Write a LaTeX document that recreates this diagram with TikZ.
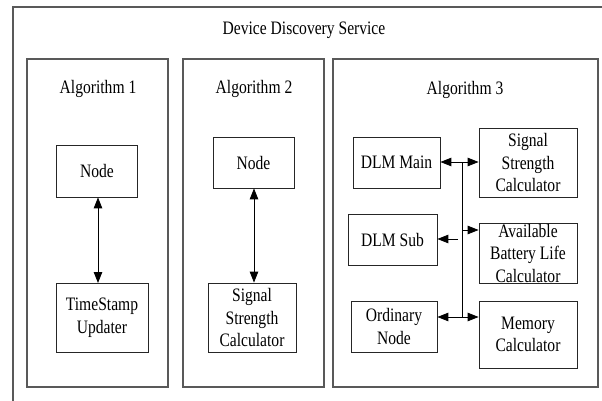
\documentclass[tikz,border=0pt]{standalone}
\usepackage{fontspec}
\setmainfont{Liberation Serif}[FakeStretch=0.82]
\usetikzlibrary{arrows.meta}

\begin{document}
\begin{tikzpicture}[x=1pt,y=-1pt,
  frame/.style={draw=black!65, line width=1.1pt},
  box/.style={draw=black!85, line width=0.8pt, inner sep=0pt, align=center,
              font=\fontsize{19}{22.5}\selectfont},
  caption/.style={font=\fontsize{19}{22.5}\selectfont},
  link/.style={line width=0.9pt, {Triangle[length=11pt,width=8.5pt]}-{Triangle[length=11pt,width=8.5pt]}},
  onelink/.style={line width=0.9pt, -{Triangle[length=11pt,width=8.5pt]}}]

\useasboundingbox (0,0) rectangle (602,400);
\clip (0,0) rectangle (602,400);
\fill[white] (0,0) rectangle (602,400);

% service frame (runs past the page edges)
\draw[frame] (13,7) rectangle (614,414);
\node[caption] (title) at (304,30) {Device Discovery Service};

% algorithm frames
\draw[frame] (27,59) rectangle (168,387);
\draw[frame] (183,59) rectangle (324,387);
\draw[frame] (333,59) rectangle (598,387);
\node[caption] (t1) at (98,89) {Algorithm 1};
\node[caption] (t2) at (254,89) {Algorithm 2};
\node[caption] (t3) at (465,90) {Algorithm 3};

% Algorithm 1
\node[box, minimum width=81pt, minimum height=52pt] (a1n) at (97,171) {Node};
\node[box, minimum width=92pt, minimum height=69pt] (a1t) at (102,317.5) {TimeStamp\\Updater};
\draw[link] (a1n.south -| 98,0) -- (98,283);

% Algorithm 2
\node[box, minimum width=81pt, minimum height=51pt] (a2n) at (253.5,162.5) {Node};
\node[box, minimum width=88pt, minimum height=69pt] (a2s) at (252,317.5) {Signal\\Strength\\Calculator};
\draw[link] (a2n.south -| 254,0) -- (a2s.north -| 254,0);

% Algorithm 3
\node[box, minimum width=87pt, minimum height=51pt] (dlmm) at (396.5,162.5) {DLM Main};
\node[box, minimum width=89pt, minimum height=51pt] (dlms) at (392.5,239.5) {DLM Sub};
\node[box, minimum width=86pt, minimum height=51pt] (ord) at (394,326.5) {Ordinary\\Node};
\node[box, minimum width=98pt, minimum height=69pt] (ssc) at (528,162.5) {Signal\\Strength\\Calculator};
\node[box, minimum width=98pt, minimum height=60pt] (abl) at (528,253) {Available\\Battery Life\\Calculator};
\node[box, minimum width=98pt, minimum height=67pt] (mem) at (528,334.5) {Memory\\Calculator};

\coordinate (bustop) at (462,162);
\coordinate (busbot) at (462,317);
\draw[line width=0.9pt] (bustop) -- (busbot);
\draw[link] (dlmm.east |- bustop) -- (ssc.west |- bustop);
\draw[onelink] (458,239) -- (dlms.east |- 0,239);
\draw[onelink] (462,230) -- (abl.west |- 0,230);
\draw[link] (ord.east |- busbot) -- (mem.west |- busbot);

\end{tikzpicture}
\end{document}
